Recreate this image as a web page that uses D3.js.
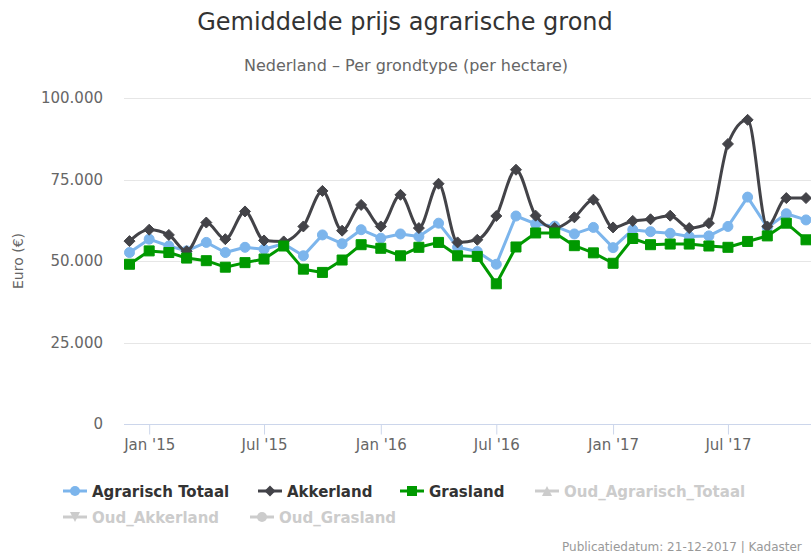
<!DOCTYPE html>
<html>
<head>
<meta charset="utf-8">
<script src="https://cdn.jsdelivr.net/npm/d3@7"></script>
<style>
  body { margin: 0; background: #fff; }
  svg text { font-family: "DejaVu Sans", "Noto Sans", sans-serif; }
</style>
</head>
<body>
<svg id="chart" width="811" height="553"></svg>
<script>
// Maanden (eerste van de maand)
const months = [
    "2014-12", "2015-01", "2015-02", "2015-03", "2015-04", "2015-05", "2015-06", "2015-07", "2015-08", "2015-09", "2015-10", "2015-11",
    "2015-12", "2016-01", "2016-02", "2016-03", "2016-04", "2016-05", "2016-06", "2016-07", "2016-08", "2016-09", "2016-10", "2016-11",
    "2016-12", "2017-01", "2017-02", "2017-03", "2017-04", "2017-05", "2017-06", "2017-07", "2017-08", "2017-09", "2017-10", "2017-11"
];

// Euro per hectare
const agrarischTotaal = [
    52600, 56700, 54600, 53100, 55700, 52600, 54200, 53600, 55300, 51600, 58000, 55300,
    59600, 57000, 58300, 57500, 61600, 54200, 52900, 49000, 63800, 61400, 60700, 58300,
    60300, 54100, 59600, 59000, 58500, 57500, 57700, 60600, 69600, 60300, 64500, 62600
];
const akkerland = [
    56100, 59600, 58000, 53000, 61800, 56700, 65200, 56300, 56000, 60600, 71500, 59300,
    67200, 60600, 70300, 60100, 73700, 55700, 56500, 63800, 78000, 63900, 60100, 63400,
    68800, 60300, 62300, 62800, 63900, 60100, 61600, 85900, 93300, 60600, 69300, 69300
];
const grasland = [
    49000, 53100, 52600, 50900, 50100, 48100, 49500, 50600, 54600, 47500, 46500, 50300,
    55000, 53900, 51600, 54200, 55700, 51600, 51400, 43000, 54300, 58600, 58600, 54700,
    52500, 49300, 56900, 55000, 55200, 55200, 54600, 54200, 56000, 57700, 61600, 56500
];

const yTicks = [0, 25000, 50000, 75000, 100000];

const legendItems = [
    { name: "Agrarisch Totaal", color: "#7cb5ec", symbol: "circle", visible: true },
    { name: "Akkerland", color: "#434348", symbol: "diamond", visible: true },
    { name: "Grasland", color: "#009900", symbol: "square", visible: true },
    { name: "Oud_Agrarisch_Totaal", color: "#cccccc", symbol: "triangle", visible: false },
    { name: "Oud_Akkerland", color: "#cccccc", symbol: "triangle-down", visible: false },
    { name: "Oud_Grasland", color: "#cccccc", symbol: "circle", visible: false }
];

const width = 811, height = 553;
const plot = { left: 124, top: 98, bottom: 424 };

const svg = d3.select("#chart");
const parseMonth = d3.utcParse("%Y-%m");
const dates = months.map(parseMonth);

const x = d3.scaleUtc()
    .domain([dates[0], dates[dates.length - 1]])
    .range([129.5, 806]);
const y = d3.scaleLinear().domain([0, 100000]).range([plot.bottom, plot.top]);

const fmtNL = d3.formatLocale({ decimal: ",", thousands: ".", grouping: [3], currency: ["€", ""] }).format(",");

// Titels
svg.append("text")
    .attr("x", 405).attr("y", 30)
    .attr("text-anchor", "middle")
    .attr("font-size", "24px")
    .attr("fill", "#333333")
    .text("Gemiddelde prijs agrarische grond");

svg.append("text")
    .attr("x", 406).attr("y", 71)
    .attr("text-anchor", "middle")
    .attr("font-size", "16px")
    .attr("fill", "#666666")
    .text("Nederland \u2013 Per grondtype (per hectare)");

// Rasterlijnen
svg.append("g")
    .selectAll("line")
    .data(yTicks.filter(d => d > 0))
    .join("line")
    .attr("x1", plot.left).attr("x2", width)
    .attr("y1", d => Math.round(y(d)) + 0.5).attr("y2", d => Math.round(y(d)) + 0.5)
    .attr("stroke", "#e6e6e6");

// Y-as labels
svg.append("g")
    .selectAll("text")
    .data(yTicks)
    .join("text")
    .attr("x", 103)
    .attr("y", d => y(d) + 5)
    .attr("text-anchor", "end")
    .attr("font-size", "15px")
    .attr("fill", "#666666")
    .text(d => fmtNL(d));

svg.append("text")
    .attr("transform", `translate(23, ${(plot.top + plot.bottom) / 2}) rotate(-90)`)
    .attr("text-anchor", "middle")
    .attr("font-size", "14px")
    .attr("fill", "#666666")
    .text("Euro (\u20ac)");

// X-as
const xAxis = d3.axisBottom(x)
    .ticks(d3.utcMonth.every(6))
    .tickFormat(d3.utcFormat("%b '%y"))
    .tickSize(10)
    .tickSizeOuter(0);

const xg = svg.append("g")
    .attr("transform", `translate(0, ${plot.bottom + 0.5})`)
    .call(xAxis);
xg.select(".domain").attr("d", `M${plot.left},0H${width}`).attr("stroke", "#ccd6eb");
xg.selectAll(".tick line").attr("stroke", "#ccd6eb");
xg.selectAll(".tick text")
    .attr("y", 15)
    .attr("font-size", "15px")
    .attr("font-family", "DejaVu Sans, sans-serif")
    .attr("fill", "#666666");

// Reeksen
const series = [
    { values: agrarischTotaal, color: "#7cb5ec", curve: d3.curveLinear, symbol: "circle" },
    { values: akkerland, color: "#434348", curve: d3.curveMonotoneX, symbol: "diamond" },
    { values: grasland, color: "#009900", curve: d3.curveLinear, symbol: "square" }
];

function symbolPath(type, r) {
    if (type === "circle") return d3.symbol(d3.symbolCircle, Math.PI * r * r)();
    if (type === "square") return d3.symbol(d3.symbolSquare, (2 * r) * (2 * r))();
    if (type === "diamond") return `M0,${-r}L${r},0L0,${r}L${-r},0Z`;
    if (type === "triangle") return `M0,${-r}L${r},${r}L${-r},${r}Z`;
    if (type === "triangle-down") return `M${-r},${-r}L${r},${-r}L0,${r}Z`;
}

const markerSize = { circle: 5, square: 5, diamond: 5.5 };

series.forEach(s => {
    const g = svg.append("g");
    const line = d3.line()
        .x((d, i) => x(dates[i]))
        .y(d => y(d))
        .curve(s.curve);
    g.append("path")
        .datum(s.values)
        .attr("d", line)
        .attr("fill", "none")
        .attr("stroke", s.color)
        .attr("stroke-width", 3)
        .attr("stroke-linejoin", "round");
    g.selectAll(".marker")
        .data(s.values)
        .join("path")
        .attr("class", "marker")
        .attr("transform", (d, i) => `translate(${x(dates[i])}, ${y(d)})`)
        .attr("d", symbolPath(s.symbol, markerSize[s.symbol]))
        .attr("fill", s.color)
        .attr("stroke", s.color)
        .attr("stroke-width", 1);
});

// Legenda
const legendPos = [[63, 491], [258, 491], [400, 491], [535, 491], [63, 517], [250, 517]];
const legend = svg.append("g");
legendItems.forEach((item, i) => {
    const [lx, ly] = legendPos[i];
    const g = legend.append("g").attr("transform", `translate(${lx}, ${ly})`);
    g.append("line")
        .attr("x1", 0).attr("x2", 24)
        .attr("y1", 0).attr("y2", 0)
        .attr("stroke", item.color)
        .attr("stroke-width", 3);
    g.append("path")
        .attr("transform", "translate(12, 0)")
        .attr("d", symbolPath(item.symbol, item.symbol === "diamond" ? 5.5 : 5))
        .attr("fill", item.color);
    g.append("text")
        .attr("x", 29).attr("y", 6)
        .attr("font-size", "15px")
        .attr("font-weight", "bold")
        .attr("font-family", "Liberation Sans, Arial, sans-serif")
        .attr("fill", item.visible ? "#333333" : "#cccccc")
        .text(item.name);
});

// Bron
svg.append("text")
    .attr("x", 562).attr("y", 551)
    .attr("font-size", "12px")
    .attr("font-family", "Liberation Sans, Arial, sans-serif")
    .attr("fill", "#999999")
    .text("Publicatiedatum: 21-12-2017 | Kadaster");
</script>
</body>
</html>
